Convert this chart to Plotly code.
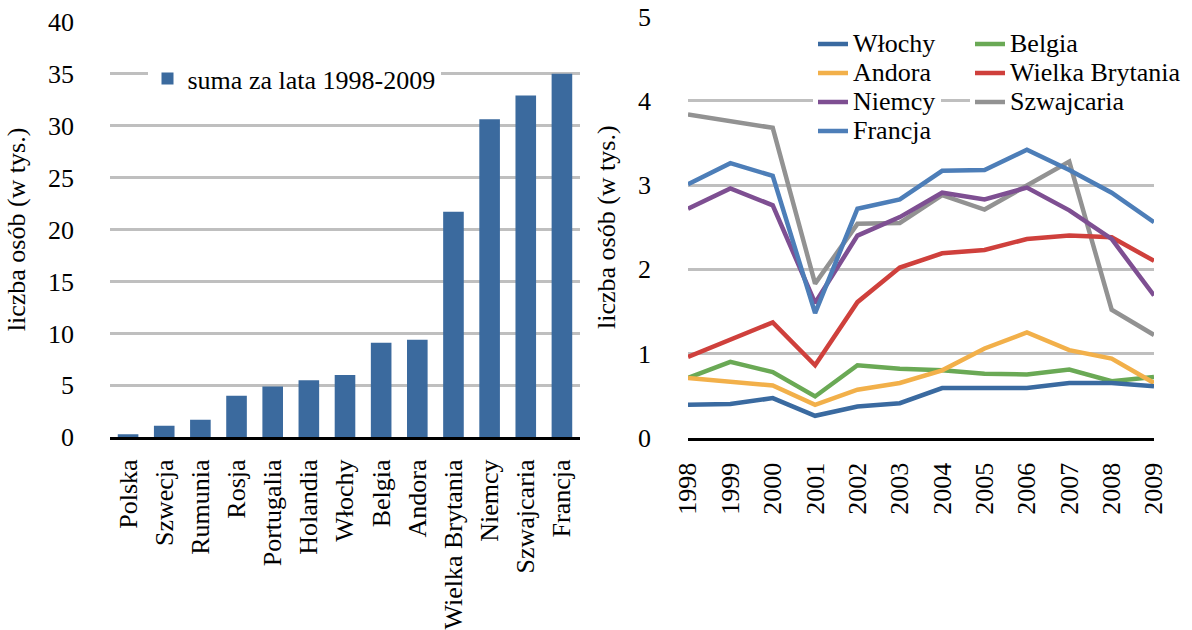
import plotly.graph_objects as go

# ---- left chart data ----
countries = ["Polska", "Szwecja", "Rumunia", "Rosja", "Portugalia", "Holandia", "Włochy",
             "Belgia", "Andora", "Wielka Brytania", "Niemcy", "Szwajcaria", "Francja"]
totals = [0.3, 1.1, 1.7, 4.0, 4.9, 5.5, 6.0, 9.1, 9.4, 21.7, 30.6, 32.9, 35.0]
bar_name = "suma za lata 1998-2009"

# ---- right chart data ----
years = ["1998", "1999", "2000", "2001", "2002", "2003", "2004", "2005", "2006", "2007", "2008", "2009"]
wlochy = [0.39, 0.40, 0.47, 0.26, 0.37, 0.41, 0.59, 0.59, 0.59, 0.65, 0.65, 0.61]
andora = [0.71, 0.67, 0.62, 0.39, 0.57, 0.65, 0.80, 1.06, 1.25, 1.04, 0.94, 0.65]
niemcy = [2.72, 2.96, 2.76, 1.60, 2.40, 2.62, 2.91, 2.83, 2.97, 2.70, 2.36, 1.69]
francja = [3.01, 3.26, 3.11, 1.48, 2.72, 2.83, 3.17, 3.18, 3.42, 3.18, 2.91, 2.56]
belgia = [0.71, 0.90, 0.78, 0.49, 0.86, 0.82, 0.80, 0.76, 0.75, 0.81, 0.67, 0.72]
wielka_brytania = [0.96, 1.16, 1.37, 0.86, 1.61, 2.02, 2.19, 2.23, 2.36, 2.40, 2.38, 2.10]
szwajcaria = [3.84, 3.76, 3.68, 1.83, 2.54, 2.55, 2.88, 2.71, 3.00, 3.28, 1.52, 1.22]

y_title = "liczba osób (w tys.)"

FONT = "Liberation Serif, Times New Roman, serif"
W, H = 1192, 630

fig = go.Figure()

fig.add_trace(go.Bar(
    x=countries, y=totals, name=bar_name, marker=dict(color="#3b6a9e", line=dict(width=0)),
    xaxis="x", yaxis="y", legend="legend3", showlegend=True,
))

# series: (name, values, color, legend, rank) -- drawn in this order
series = [
    ("Szwajcaria", szwajcaria, "#929292", "legend2", 3),
    ("Belgia", belgia, "#6aa955", "legend2", 1),
    ("Wielka Brytania", wielka_brytania, "#cf403c", "legend2", 2),
    ("Andora", andora, "#f2b04a", "legend", 2),
    ("Włochy", wlochy, "#3a6aa0", "legend", 1),
    ("Niemcy", niemcy, "#7e4f92", "legend", 3),
    ("Francja", francja, "#4d7eb8", "legend", 4),
]
for name, vals, col, leg, rank in series:
    fig.add_trace(go.Scatter(
        x=years, y=vals, mode="lines",
        name='<span style="font-size:26px">' + name + "</span>",
        line=dict(color=col, width=4.5),
        xaxis="x2", yaxis="y2", legend=leg, legendrank=rank,
    ))

def px_x(p):
    return p / W

def px_y(p):
    return 1 - p / H

grid = dict(showgrid=True, gridcolor="#bfbfbf", gridwidth=2.5, zeroline=False,
            showline=False, ticks="", ticklen=0, automargin=False)

fig.update_layout(
    width=W, height=H,
    margin=dict(l=0, r=0, t=0, b=0, autoexpand=False),
    paper_bgcolor="white", plot_bgcolor="white",
    font=dict(family=FONT, size=26, color="black"),
    bargap=0.43,
    xaxis=dict(domain=[px_x(110), px_x(580)], anchor="y", type="category",
               range=[-0.5, 12.5], tickangle=-90, showline=True, linecolor="black",
               linewidth=2.5, showgrid=False, ticks="", ticklabelstandoff=9,
               tickfont=dict(size=26), automargin=False),
    yaxis=dict(domain=[px_y(437.3), px_y(21.7)], anchor="x", range=[0, 40],
               dtick=5, tick0=0, ticklabelstandoff=35,
               title=dict(text=y_title, font=dict(size=26), standoff=14), **grid),
    xaxis2=dict(domain=[px_x(688), px_x(1154)], anchor="y2", type="category",
                range=[0, 11], tickangle=-90, showline=True, linecolor="black",
                linewidth=2.5, showgrid=False, ticks="", ticklabelstandoff=12,
                tickfont=dict(size=26), automargin=False),
    yaxis2=dict(domain=[px_y(437.7), px_y(16.7)], anchor="x2", range=[0, 5],
                dtick=1, tick0=0, ticklabelstandoff=36,
                title=dict(text=y_title, font=dict(size=26), standoff=14), **grid),
    legend=dict(x=px_x(813), y=px_y(24.5), xanchor="left", yanchor="top",
                orientation="v", bgcolor="white", borderwidth=0,
                font=dict(size=20, family=FONT), itemwidth=30),
    legend2=dict(x=px_x(970), y=px_y(24.5), xanchor="left", yanchor="top",
                 orientation="v", bgcolor="white", borderwidth=0,
                 font=dict(size=20, family=FONT), itemwidth=30),
    legend3=dict(x=px_x(147.5), y=px_y(55.1), xanchor="left", yanchor="top",
                 orientation="v", bgcolor="white", borderwidth=0,
                 font=dict(size=26, family=FONT)),
)

fig.write_html("out.html", config={"displayModeBar": False},
               post_script="document.body.style.margin='0';")
